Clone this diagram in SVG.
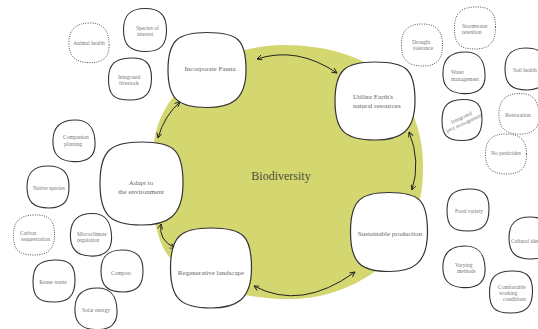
<svg xmlns="http://www.w3.org/2000/svg" xmlns:xlink="http://www.w3.org/1999/xlink" width="538" height="329" viewBox="0 0 538 329">
<style>
.solid{fill:#fff;stroke:#333;stroke-width:1.1}
.big{fill:#fff;stroke:#333;stroke-width:1.2}
.dot{fill:#fff;stroke:#555;stroke-width:1;stroke-dasharray:1 1.3}
text{font-family:"Liberation Serif","DejaVu Serif",serif}
.s{font-size:5.5px;fill:#777}
.b{font-size:7px;fill:#666}
.c{text-anchor:middle}
.conn path{fill:none;stroke:#222;stroke-width:1;marker-start:url(#ah);marker-end:url(#ah)}
</style>
<defs>
<marker id="ah" viewBox="0 0 6 6" refX="5.5" refY="3" markerWidth="6" markerHeight="6" markerUnits="userSpaceOnUse" orient="auto-start-reverse">
<path d="M0.5,0.5 L5.5,3 L0.5,5.5" fill="none" stroke="#222" stroke-width="0.9"/>
</marker>
<path id="b1" vector-effect="non-scaling-stroke" d="M1,0 C1,0.62 0.78,1 0.05,1 C-0.7,1 -1,0.7 -1,0 C-1,-0.66 -0.72,-1 0,-1 C0.74,-1 1,-0.64 1,0Z"/>
<path id="b2" vector-effect="non-scaling-stroke" d="M0.98,0.08 C1,0.72 0.66,1 -0.02,0.98 C-0.72,0.96 -1,0.6 -0.98,-0.04 C-0.96,-0.72 -0.6,-1 0.06,-1 C0.72,-1 0.96,-0.6 0.98,0.08Z"/>
<path id="b3" vector-effect="non-scaling-stroke" d="M1,-0.05 C1,0.7 0.7,1 0,1 C-0.74,1 -1,0.76 -1,0.02 C-1,-0.7 -0.7,-0.98 0.02,-1 C0.72,-1.02 1,-0.76 1,-0.05Z"/>
<path id="b4" vector-effect="non-scaling-stroke" d="M1,0 C1,0.8 0.62,1 0,1 C-0.76,1 -1,0.76 -1,0 C-1,-0.8 -0.74,-1 0,-1 C0.8,-1 1,-0.8 1,0Z"/>
</defs>
<rect width="538" height="329" fill="#fff"/>
<path id="hub" d="M283,45 C330,45 370,58 395,85 C415,108 424,140 423,170 C423,205 410,245 380,268 C350,290 320,299 290,299 C240,299 195,285 170,258 C155,240 151,205 152,170 C152,130 162,105 185,85 C210,60 245,45 283,45Z" fill="#d4d670"/>
<text x="281" y="180" class="c" style="font-size:12px;fill:#4d4d3d">Biodiversity</text>
<g class="conn" id="connectors">
<path d="M257,59 Q297,46 337,73"/>
<path d="M409,132 Q421,161 412,190"/>
<path d="M355,272 Q301,311 254,286"/>
<path d="M175,248 Q158,240 161,224"/>
<path d="M158,138 Q164,116 180,102"/>
</g>
<g id="fauna"><use href="#b4" class="big" transform="translate(207,70) scale(39,37.5)"/><text x="210" y="71" class="b c">Incorporate Fauna</text></g>
<g id="utilize"><use href="#b4" class="big" transform="translate(375,101) scale(40,39)"/><text x="353" y="99" class="b">Utilize Earth's</text><text x="353" y="108" class="b">natural resources</text></g>
<g id="adapt"><use href="#b4" class="big" transform="translate(141.5,183.5) scale(41.5,41.5)"/><text x="141" y="185" class="b c">Adapt to</text><text x="141" y="194" class="b c">the environment</text></g>
<g id="regen"><use href="#b4" class="big" transform="translate(211,268) scale(40.5,40)"/><text x="211" y="275" class="b c">Regenerative landscape</text></g>
<g id="sustain"><use href="#b4" class="big" transform="translate(389,232) scale(38.5,39.5)"/><text x="390" y="236" class="b c">Sustainable production</text></g>
<g id="animal"><use href="#b2" class="dot" transform="translate(89,43) scale(20.5,20)"/><text x="89" y="45" class="s c">Animal health</text></g>
<g id="species"><use href="#b1" class="solid" transform="translate(145,30) scale(21.5,21.5)"/><text x="136" y="30" class="s">Species of</text><text x="137" y="36" class="s">interest</text></g>
<g id="livestock"><use href="#b3" class="solid" transform="translate(130,79) scale(21.5,21)"/><text x="118" y="79" class="s">Integrated</text><text x="119" y="85" class="s">livestock</text></g>
<g id="companion"><use href="#b2" class="solid" transform="translate(74,141) scale(21.5,21)"/><text x="63" y="139" class="s">Companion</text><text x="64" y="146" class="s">planting</text></g>
<g id="native"><use href="#b1" class="solid" transform="translate(48,187) scale(21,21)"/><text x="49" y="190" class="s c">Native species</text></g>
<g id="carbon"><use href="#b3" class="dot" transform="translate(34,235) scale(20.5,20)"/><text x="20" y="235" class="s">Carbon</text><text x="21" y="241" class="s">sequestration</text></g>
<g id="micro"><use href="#b2" class="solid" transform="translate(91,235) scale(21,21.5)"/><text x="77" y="236" class="s">Microclimate</text><text x="77" y="242" class="s">regulation</text></g>
<g id="compost"><use href="#b1" class="solid" transform="translate(122,271) scale(21,21)"/><text x="121" y="275" class="s c">Compost</text></g>
<g id="reuse"><use href="#b3" class="solid" transform="translate(54,281) scale(21,21)"/><text x="53" y="284" class="s c">Reuse waste</text></g>
<g id="solar"><use href="#b2" class="solid" transform="translate(96,309) scale(21.5,21)"/><text x="96" y="312" class="s c">Solar energy</text></g>
<g id="drought"><use href="#b1" class="dot" transform="translate(422,45) scale(20.5,21)"/><text x="412" y="44" class="s">Drought</text><text x="413" y="50" class="s">tolerance</text></g>
<g id="storm"><use href="#b3" class="dot" transform="translate(475,28) scale(20.5,21)"/><text x="462" y="28" class="s">Stormwater</text><text x="462" y="34" class="s">retention</text></g>
<g id="water"><use href="#b2" class="solid" transform="translate(464,73) scale(21.5,21)"/><text x="451" y="74" class="s">Water</text><text x="451" y="81" class="s">management</text></g>
<g id="soil"><use href="#b1" class="solid" transform="translate(526,69) scale(21,21)"/><text x="513" y="72" class="s">Soil health</text></g>
<g id="pest"><use href="#b3" class="solid" transform="translate(462,120) scale(20,20.5)"/><g transform="translate(463,121) rotate(-25)"><text x="0" y="-2" class="s c">Integrated</text><text x="0" y="4" class="s c">pest management</text></g></g>
<g id="restore"><use href="#b2" class="dot" transform="translate(519,114) scale(20.5,20.5)"/><text x="518" y="117" class="s c">Restoration</text></g>
<g id="nopest"><use href="#b1" class="dot" transform="translate(506,154) scale(20.5,20)"/><text x="506" y="155" class="s c">No pesticides</text></g>
<g id="food"><use href="#b3" class="solid" transform="translate(468,210) scale(21,21)"/><text x="469" y="213" class="s c">Food variety</text></g>
<g id="cultural"><use href="#b1" class="solid" transform="translate(530,238) scale(21,21)"/><text x="511" y="243" class="s">Cultural identity</text></g>
<g id="varying"><use href="#b2" class="solid" transform="translate(464,267) scale(21.5,21)"/><text x="455" y="267" class="s">Varying</text><text x="457" y="273" class="s">methods</text></g>
<g id="comfort"><use href="#b3" class="solid" transform="translate(511,292) scale(21.5,21)"/><text x="498" y="289" class="s">Comfortable</text><text x="499" y="295" class="s">working</text><text x="503" y="301" class="s">conditions</text></g>
</svg>
